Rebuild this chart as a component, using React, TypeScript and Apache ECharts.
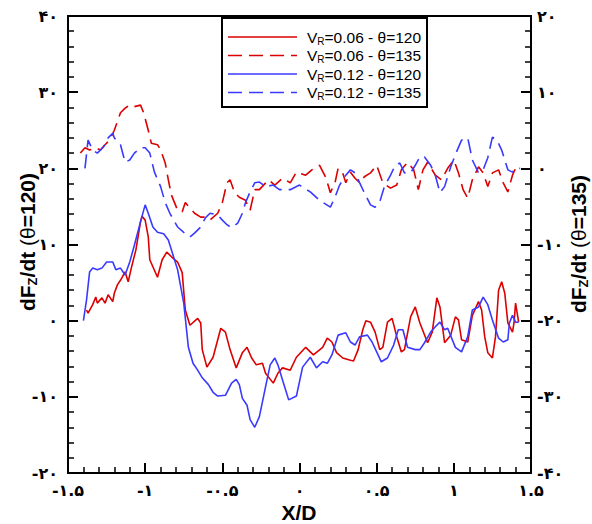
import React, { useEffect, useRef } from "react";
import * as echarts from "echarts";

// X/D positions and dF/dt values (left axis for θ=120, right axis for θ=135)
const red120: [number, number][] = [
  [-1.38, 1.4], [-1.37, 1.0], [-1.34, 2.1], [-1.32, 3.1], [-1.31, 2.3], [-1.28, 3.0], [-1.26, 2.3],
  [-1.24, 3.4], [-1.21, 2.5], [-1.2, 3.6], [-1.18, 4.7], [-1.16, 5.3], [-1.13, 6.4], [-1.11, 5.1],
  [-1.09, 6.9], [-1.06, 9.3], [-1.03, 13.0], [-1.02, 13.7], [-1.0, 13.2], [-0.98, 11.0], [-0.97, 8.0],
  [-0.92, 5.7], [-0.89, 8.0], [-0.86, 9.0], [-0.82, 8.2], [-0.79, 7.7], [-0.76, 6.3], [-0.74, 1.4],
  [-0.71, -0.6], [-0.66, 0.3], [-0.64, -0.3], [-0.63, -3.8], [-0.6, -6.1], [-0.56, -4.8], [-0.51, -1.0],
  [-0.48, -1.5], [-0.45, -3.8], [-0.41, -6.2], [-0.37, -4.2], [-0.34, -3.5], [-0.31, -4.9], [-0.28, -5.8],
  [-0.24, -5.6], [-0.22, -6.9], [-0.17, -8.2], [-0.14, -6.9], [-0.11, -6.2], [-0.06, -6.5], [-0.02, -4.8],
  [0.04, -3.5], [0.09, -4.5], [0.15, -3.5], [0.18, -2.3], [0.21, -2.8], [0.24, -4.2], [0.28, -4.9],
  [0.33, -5.2], [0.35, -5.3], [0.38, -3.8], [0.41, -1.2], [0.43, 0.0], [0.46, -0.2], [0.49, -1.5],
  [0.52, -3.8], [0.54, -3.5], [0.57, -0.2], [0.6, 0.3], [0.63, -2.1], [0.66, -4.1], [0.68, -3.8],
  [0.72, 0.5], [0.75, 1.8], [0.78, -0.3], [0.83, -2.9], [0.86, -1.5], [0.89, 3.0], [0.91, 1.8],
  [0.94, -2.9], [0.98, -1.9], [1.01, 0.5], [1.03, 0.1], [1.05, -2.5], [1.09, -2.8], [1.12, 0.7],
  [1.16, 2.5], [1.18, 1.4], [1.2, -2.1], [1.22, -4.2], [1.25, -4.9], [1.27, -2.1], [1.29, 4.0],
  [1.31, 5.1], [1.33, 3.6], [1.35, -0.3], [1.38, -1.5], [1.39, -0.3], [1.4, 2.3], [1.42, -0.2],
];

const red135: [number, number][] = [
  [-1.42, 2.0], [-1.39, 2.7], [-1.36, 2.4], [-1.32, 2.7], [-1.29, 2.4], [-1.26, 3.1], [-1.23, 3.7],
  [-1.2, 5.0], [-1.16, 7.3], [-1.13, 7.9], [-1.1, 8.3], [-1.07, 8.1], [-1.03, 8.3], [-1.01, 7.3],
  [-0.98, 5.0], [-0.96, 3.3], [-0.92, 3.1], [-0.9, 2.4], [-0.87, 0.7], [-0.85, -1.5], [-0.83, -3.5],
  [-0.79, -5.5], [-0.76, -5.7], [-0.74, -4.5], [-0.71, -5.2], [-0.68, -5.9], [-0.64, -6.4], [-0.61, -6.4],
  [-0.58, -6.8], [-0.53, -5.9], [-0.5, -4.5], [-0.47, -1.9], [-0.45, -1.5], [-0.42, -3.2], [-0.39, -3.8],
  [-0.35, -4.2], [-0.32, -5.5], [-0.29, -2.8], [-0.26, -2.8], [-0.2, -1.5], [-0.16, -2.2], [-0.11, -1.3],
  [-0.06, -1.9], [-0.02, -0.5], [0.04, -0.9], [0.08, -0.2], [0.13, 0.4], [0.17, -1.2], [0.2, -3.2], [0.23, -1.9],
  [0.25, 0.0], [0.28, -0.6], [0.3, -1.9], [0.33, -0.5], [0.36, -1.3], [0.39, -1.9], [0.42, -1.1],
  [0.46, -0.6], [0.5, 0.4], [0.54, -1.9], [0.59, -2.6], [0.63, -2.2], [0.66, -0.2], [0.7, 0.8],
  [0.74, -0.2], [0.77, -2.8], [0.8, -0.2], [0.83, 0.8], [0.88, -0.9], [0.92, -1.5], [0.96, 0.0],
  [1.0, 1.1], [1.03, -0.6], [1.06, -2.8], [1.09, -3.9], [1.12, -1.5], [1.16, 0.2], [1.19, -0.6],
  [1.22, -2.4], [1.25, -0.6], [1.29, -0.2], [1.32, -1.9], [1.35, -3.1], [1.38, -0.9], [1.4, 0.0],
  [1.42, -0.2],
];

const blue120: [number, number][] = [
  [-1.4, 0.0], [-1.38, 2.7], [-1.36, 6.4], [-1.34, 6.9], [-1.31, 6.7], [-1.28, 6.9], [-1.25, 7.7],
  [-1.21, 7.7], [-1.19, 6.7], [-1.16, 6.9], [-1.13, 6.0], [-1.1, 7.7], [-1.07, 9.9], [-1.03, 13.0],
  [-1.0, 15.2], [-0.98, 14.1], [-0.95, 12.3], [-0.92, 11.6], [-0.88, 11.4], [-0.85, 10.6], [-0.83, 9.3],
  [-0.79, 6.7], [-0.75, 2.3], [-0.72, -3.5], [-0.69, -5.6], [-0.66, -6.5], [-0.63, -7.5], [-0.59, -8.4],
  [-0.56, -9.4], [-0.53, -9.9], [-0.48, -9.8], [-0.44, -8.2], [-0.41, -7.7], [-0.39, -8.4], [-0.37, -10.2],
  [-0.34, -11.1], [-0.32, -13.0], [-0.29, -14.0], [-0.26, -12.6], [-0.22, -8.7], [-0.19, -5.8], [-0.16, -4.9],
  [-0.14, -5.8], [-0.11, -7.8], [-0.07, -10.4], [-0.02, -9.9], [0.02, -6.1], [0.07, -4.8], [0.11, -6.2],
  [0.15, -5.4], [0.18, -5.6], [0.21, -4.5], [0.25, -1.9], [0.3, -1.6], [0.33, -2.8], [0.36, -3.2],
  [0.39, -2.1], [0.44, -1.9], [0.47, -2.8], [0.5, -4.1], [0.53, -5.4], [0.57, -4.9], [0.61, -3.2],
  [0.64, -1.2], [0.67, -1.2], [0.7, -3.5], [0.75, -3.8], [0.78, -3.8], [0.81, -2.9], [0.85, -1.5],
  [0.88, -0.8], [0.91, -0.2], [0.94, -1.2], [0.96, -1.0], [1.01, -3.5], [1.05, -4.1], [1.09, -2.1],
  [1.12, 1.4], [1.16, 1.8], [1.19, 3.1], [1.22, 2.1], [1.25, 0.1], [1.29, -2.3], [1.32, -2.8],
  [1.35, -2.5], [1.36, -0.3], [1.38, 0.7], [1.4, -0.2], [1.42, -0.2],
];

const blue135: [number, number][] = [
  [-1.39, 0.0], [-1.37, 3.7], [-1.34, 2.4], [-1.31, 2.0], [-1.27, 2.8], [-1.24, 4.0], [-1.21, 4.6],
  [-1.2, 4.0], [-1.16, 3.1], [-1.13, 0.8], [-1.1, 1.1], [-1.07, 2.0], [-1.03, 2.7], [-1.0, 2.7],
  [-0.97, 2.0], [-0.94, -0.5], [-0.9, -2.4], [-0.87, -4.5], [-0.84, -5.9], [-0.79, -7.7], [-0.75, -8.4],
  [-0.71, -9.0], [-0.68, -8.5], [-0.64, -7.7], [-0.61, -6.5], [-0.58, -5.9], [-0.53, -6.1], [-0.5, -6.8],
  [-0.47, -7.4], [-0.44, -7.8], [-0.4, -7.2], [-0.37, -5.9], [-0.35, -4.5], [-0.32, -3.1], [-0.29, -1.9],
  [-0.26, -1.8], [-0.22, -2.4], [-0.17, -2.2], [-0.13, -2.8], [-0.06, -2.8], [0.0, -2.2], [0.07, -3.1],
  [0.13, -4.2], [0.2, -5.1], [0.23, -3.8], [0.26, -2.2], [0.3, -0.9], [0.33, -0.2], [0.36, -0.6],
  [0.39, -1.9], [0.42, -3.2], [0.46, -4.8], [0.49, -5.1], [0.52, -4.4], [0.55, -2.4], [0.59, -0.9],
  [0.62, 0.4], [0.65, 0.7], [0.68, -0.6], [0.72, -0.6], [0.75, 0.4], [0.78, 1.5], [0.81, 1.5],
  [0.85, 0.4], [0.88, -0.9], [0.91, -3.2], [0.94, -2.4], [0.98, 0.2], [1.01, 1.8], [1.05, 3.7],
  [1.09, 4.0], [1.12, 1.1], [1.16, -0.6], [1.19, -0.2], [1.22, 1.4], [1.25, 4.1], [1.28, 3.7],
  [1.31, 2.4], [1.33, 1.1], [1.35, -0.2], [1.38, -0.5], [1.4, 0.0], [1.43, 0.0],
];

const legendVR = ["0.06", "0.06", "0.12", "0.12"];
const legendTheta = ["120", "135", "120", "135"];

const RED = "#dc0000";
const BLUE = "#3a3aff";
const FA_DIGITS = "۰۱۲۳۴۵۶۷۸۹";
const toFa = (v: number) =>
  String(Math.round(v * 10) / 10).replace(/\d/g, (d) => FA_DIGITS[+d]);

const tickFont = {
  fontFamily: "DejaVu Sans",
  fontWeight: "bold" as const,
  fontSize: 16,
  color: "#000",
};

export default function App() {
  const ref = useRef<HTMLDivElement>(null);
  useEffect(() => {
    if (!ref.current) return;
    const chart = echarts.init(ref.current, undefined, { renderer: "svg" });
    const colors = [RED, RED, BLUE, BLUE];
    const dashed = [false, true, false, true];
    const legendItems: any[] = [
      {
        type: "rect",
        shape: { x: 222, y: 18, width: 205, height: 89 },
        style: { fill: "#fff", stroke: "#000", lineWidth: 2 },
        z: 100,
      },
    ];
    legendVR.forEach((vr, i) => {
      const y = 37 + i * 18.5;
      legendItems.push({
        type: "line",
        shape: { x1: 228, y1: y, x2: 297, y2: y },
        style: {
          stroke: colors[i],
          lineWidth: 1.5,
          lineDash: dashed[i] ? [14, 7] : null,
        },
        z: 101,
      });
      legendItems.push({
        type: "text",
        x: 307,
        y: y,
        style: {
          text: `{v|V}{s|R}{t|=${vr} - θ=${legendTheta[i]}}`,
          verticalAlign: "middle",
          rich: {
            v: { fontFamily: "Liberation Sans", fontSize: 15.5, lineHeight: 18, fill: "#000", verticalAlign: "middle" },
            s: { fontFamily: "Liberation Sans", fontSize: 10, lineHeight: 10, fill: "#000", verticalAlign: "bottom" },
            t: { fontFamily: "Liberation Sans", fontSize: 15.5, lineHeight: 18, fill: "#000", verticalAlign: "middle" },
          },
        },
        z: 101,
      });
    });

    const titleRich = (theta: string) => ({
      text: `{b|dF}{s|Z}{b|/dt }{n|(θ}{b|=${theta})}`,
      align: "center",
      verticalAlign: "middle",
      rich: {
        b: { fontFamily: "Liberation Sans", fontWeight: "bold", fontSize: 21, lineHeight: 24, fill: "#000", verticalAlign: "middle" },
        s: { fontFamily: "Liberation Sans", fontWeight: "bold", fontSize: 13, lineHeight: 13, fill: "#000", verticalAlign: "bottom" },
        n: { fontFamily: "Liberation Sans", fontWeight: "normal", fontSize: 21, lineHeight: 24, fill: "#000", verticalAlign: "middle" },
      },
    });

    const series = [red120, red135, blue120, blue135].map((d, i) => ({
      type: "line",
      name: `s${i}`,
      data: d,
      yAxisIndex: dashed[i] ? 1 : 0,
      showSymbol: false,
      symbol: "none",
      smooth: false,
      lineStyle: {
        color: colors[i],
        width: 1.6,
        type: dashed[i] ? [14, 7] : "solid",
      },
      z: 3,
    }));

    const yCommon = {
      type: "value",
      interval: 10,
      axisLine: { show: true, onZero: false, lineStyle: { color: "#000", width: 2 } },
      axisTick: { show: true, inside: true, length: 10, lineStyle: { color: "#000", width: 2 } },
      minorTick: { show: true, splitNumber: 5, length: 6, lineStyle: { color: "#000", width: 1.5 } },
      splitLine: { show: false },
      minorSplitLine: { show: false },
    };

    chart.setOption({
      animation: false,
      backgroundColor: "#fff",
      grid: {
        left: 68,
        right: 61,
        top: 16,
        bottom: 51,
        show: true,
        borderColor: "#000",
        borderWidth: 2,
        backgroundColor: "transparent",
      },
      xAxis: {
        type: "value",
        min: -1.5,
        max: 1.5,
        interval: 0.5,
        axisLine: { show: true, onZero: false, lineStyle: { color: "#000", width: 2 } },
        axisTick: { show: true, inside: true, length: 10, lineStyle: { color: "#000", width: 2 } },
        minorTick: { show: true, splitNumber: 5, length: 6, lineStyle: { color: "#000", width: 1.5 } },
        splitLine: { show: false },
        minorSplitLine: { show: false },
        axisLabel: { ...tickFont, margin: 9, formatter: (v: number) => toFa(v) },
      },
      yAxis: [
        {
          ...yCommon,
          min: -20,
          max: 40,
          position: "left",
          axisLabel: { ...tickFont, margin: 10, formatter: (v: number) => toFa(v) },
        },
        {
          ...yCommon,
          min: -40,
          max: 20,
          position: "right",
          axisLabel: { ...tickFont, margin: 6, formatter: (v: number) => toFa(v) },
        },
      ],
      series,
      graphic: [
        ...legendItems,
        {
          type: "text",
          x: 27,
          y: 242,
          rotation: Math.PI / 2,
          style: titleRich("120"),
        },
        {
          type: "text",
          x: 578,
          y: 244,
          rotation: Math.PI / 2,
          style: titleRich("135"),
        },
        {
          type: "text",
          x: 299,
          y: 512,
          style: {
            text: "X/D",
            align: "center",
            verticalAlign: "middle",
            fontFamily: "Liberation Sans",
            fontWeight: "bold",
            fontSize: 21,
            fill: "#000",
          },
        },
      ],
    });
    return () => chart.dispose();
  }, []);
  return (
    <div
      ref={ref}
      style={{ position: "fixed", left: 0, top: 0, width: 592, height: 524 }}
    />
  );
}
